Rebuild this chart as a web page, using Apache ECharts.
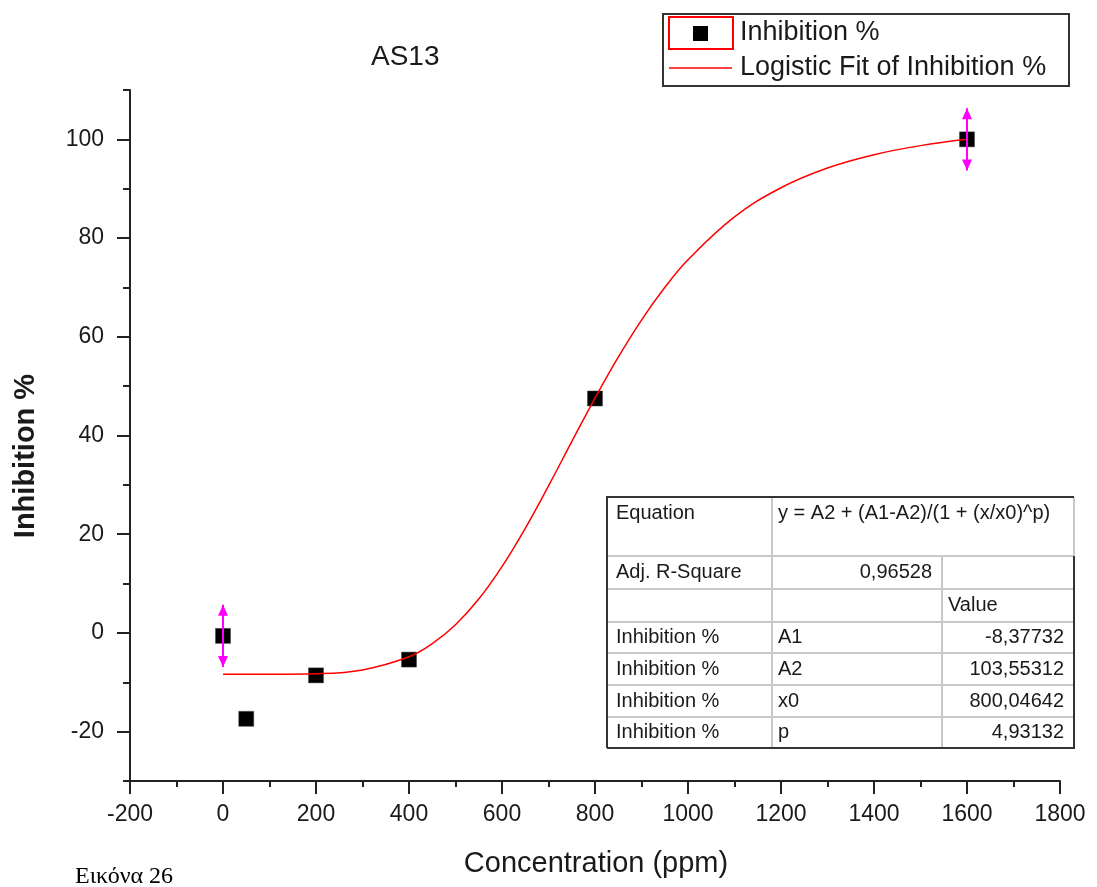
<!DOCTYPE html>
<html><head><meta charset="utf-8">
<script src="https://cdn.jsdelivr.net/npm/echarts@6/dist/echarts.min.js"></script>
<style>html,body{margin:0;padding:0;background:#fff;}#c{width:1097px;height:887px;}</style>
</head><body><div id="c"></div>
<script>
// ---- data ----
const concentration = [0, 50, 200, 400, 800, 1600];
const inhibition = [-0.6, -17.4, -8.6, -5.4, 47.5, 100];
const errConc = [0, 1600];
const errMean = [-0.6, 100];
const errSize = [6.3, 6.3];
const fitConc = [0, 100, 200, 300, 400, 450, 500, 550, 600, 650, 700, 750, 800, 850, 900, 950, 1000, 1100, 1200, 1300, 1400, 1500, 1600];
const fitInhibition = [-8.38, -8.37, -8.26, -7.49, -4.83, -2.18, 1.65, 6.86, 13.43, 21.19, 29.79, 38.75, 47.58, 55.88, 63.39, 69.97, 75.60, 84.28, 90.20, 94.19, 96.89, 98.73, 100.00];
const yMajorTicks = [-20, 0, 20, 40, 60, 80, 100];
const yMinorTicks = [-30, -10, 10, 30, 50, 70, 90, 110];
const legendNames = ['Inhibition %', 'Logistic Fit of Inhibition %'];
const tableLabels = ['Equation', 'Adj. R-Square', '', 'Inhibition %', 'Inhibition %', 'Inhibition %', 'Inhibition %'];
const tableParams = ['y = A2 + (A1-A2)/(1 + (x/x0)^p)', '0,96528', '', 'A1', 'A2', 'x0', 'p'];
const tableValues = ['', '', 'Value', '-8,37732', '103,55312', '800,04642', '4,93132'];
const titleText = 'AS13';
const xName = 'Concentration (ppm)';
const yName = 'Inhibition %';
const captionText = 'Εικόνα 26';

// ---- layout ----
const FONT = "'Liberation Sans', Arial, sans-serif";
const ink = '#1a1a1a';
const chart = echarts.init(document.getElementById('c'), null, {renderer: 'canvas'});

const graphics = [];
graphics.push({type: 'text', x: 596, y: 864, style: {text: xName, font: '29px ' + FONT, fill: ink, align: 'center', verticalAlign: 'middle'}});
graphics.push({type: 'text', x: 26, y: 456, rotation: Math.PI / 2, style: {text: yName, font: 'bold 29px ' + FONT, fill: ink, align: 'center', verticalAlign: 'middle'}});
graphics.push({type: 'text', x: 75, y: 877, style: {text: captionText, font: "24px 'Liberation Serif', 'Times New Roman', serif", fill: '#000', align: 'left', verticalAlign: 'middle'}});

// legend box
graphics.push({type: 'rect', shape: {x: 663, y: 14, width: 406, height: 72}, style: {fill: '#fff', stroke: '#333', lineWidth: 2}, z: 10});
graphics.push({type: 'rect', shape: {x: 669, y: 17, width: 64, height: 32}, style: {fill: 'none', stroke: '#ff0000', lineWidth: 2}, z: 11});
graphics.push({type: 'rect', shape: {x: 693, y: 26, width: 15, height: 15}, style: {fill: '#000'}, z: 11});
graphics.push({type: 'line', shape: {x1: 669, y1: 68, x2: 732, y2: 68}, style: {stroke: '#ff0000', lineWidth: 1.5}, z: 11});
graphics.push({type: 'text', x: 740, y: 33, style: {text: legendNames[0], font: '27px ' + FONT, fill: ink, align: 'left', verticalAlign: 'middle'}, z: 11});
graphics.push({type: 'text', x: 740, y: 68, style: {text: legendNames[1], font: '27px ' + FONT, fill: ink, align: 'left', verticalAlign: 'middle'}, z: 11});

// table
const tL = 607, c1 = 772, c2 = 942, tR = 1074;
const rowLines = [497, 556, 589, 622, 653, 685, 717, 748];
const light = '#c8c8c8', dark = '#333';
graphics.push({type: 'rect', shape: {x: tL, y: 497, width: tR - tL, height: 748 - 497}, style: {fill: '#fff'}, z: 5});
for (let i = 1; i < rowLines.length - 1; i++) {
  graphics.push({type: 'line', shape: {x1: tL, y1: rowLines[i], x2: tR, y2: rowLines[i]}, style: {stroke: light, lineWidth: 2}, z: 6});
}
graphics.push({type: 'line', shape: {x1: c1, y1: 497, x2: c1, y2: 748}, style: {stroke: light, lineWidth: 2}, z: 6});
graphics.push({type: 'line', shape: {x1: c2, y1: 556, x2: c2, y2: 748}, style: {stroke: light, lineWidth: 2}, z: 6});
graphics.push({type: 'line', shape: {x1: tR, y1: 497, x2: tR, y2: 556}, style: {stroke: light, lineWidth: 2}, z: 6});
graphics.push({type: 'polyline', shape: {points: [[tL, 748], [tL, 497], [tR, 497]]}, style: {stroke: dark, lineWidth: 2, fill: 'none'}, z: 7});
graphics.push({type: 'polyline', shape: {points: [[tL, 748], [tR, 748], [tR, 556]]}, style: {stroke: dark, lineWidth: 2, fill: 'none'}, z: 7});
const tf = '20px ' + FONT;
for (let i = 0; i < tableLabels.length; i++) {
  const top = rowLines[i], bot = rowLines[i + 1];
  const cy = i === 0 ? top + 16 : (top + bot) / 2;
  if (tableLabels[i]) graphics.push({type: 'text', x: tL + 9, y: cy, style: {text: tableLabels[i], font: tf, fill: ink, align: 'left', verticalAlign: 'middle'}, z: 8});
  if (tableParams[i]) {
    const numeric = i === 1;
    graphics.push({type: 'text', x: numeric ? c2 - 10 : c1 + 6, y: cy, style: {text: tableParams[i], font: tf, fill: ink, align: numeric ? 'right' : 'left', verticalAlign: 'middle'}, z: 8});
  }
  if (tableValues[i]) {
    const isHeader = i === 2;
    graphics.push({type: 'text', x: isHeader ? c2 + 6 : tR - 10, y: cy, style: {text: tableValues[i], font: tf, fill: ink, align: isHeader ? 'left' : 'right', verticalAlign: 'middle'}, z: 8});
  }
}

const axisLineStyle = {color: '#222', width: 2};
const option = {
  animation: false,
  backgroundColor: '#fff',
  title: {text: titleText, left: 366, top: 38, textStyle: {fontFamily: FONT, fontSize: 28, fontWeight: 'normal', color: ink}},
  grid: {left: 130, right: 37, top: 90, bottom: 106, containLabel: false},
  xAxis: [{
    type: 'value', min: -200, max: 1800, interval: 200, position: 'bottom',
    axisLine: {show: true, onZero: false, lineStyle: axisLineStyle},
    axisTick: {show: true, inside: false, length: 13, lineStyle: axisLineStyle},
    minorTick: {show: true, splitNumber: 2, length: 6, lineStyle: axisLineStyle},
    splitLine: {show: false}, minorSplitLine: {show: false},
    axisLabel: {margin: 22, fontSize: 23, fontFamily: FONT, color: ink, formatter: v => String(v)}
  }],
  yAxis: [{
    type: 'value', min: -30, max: 110, interval: 10, position: 'left',
    axisLine: {show: true, onZero: false, lineStyle: axisLineStyle},
    axisTick: {show: true, inside: false, length: 13, customValues: yMajorTicks, lineStyle: axisLineStyle},
    splitLine: {show: false},
    axisLabel: {margin: 26, fontSize: 23, fontFamily: FONT, color: ink, customValues: yMajorTicks, formatter: v => String(v)}
  }, {
    type: 'value', min: -30, max: 110, interval: 10, position: 'left', offset: 0,
    axisLine: {show: false, onZero: false},
    axisTick: {show: true, inside: false, length: 7, customValues: yMinorTicks, lineStyle: axisLineStyle},
    splitLine: {show: false},
    axisLabel: {show: false}
  }],
  graphic: graphics,
  series: [{
    name: legendNames[0], type: 'scatter', z: 2,
    symbol: 'rect', symbolSize: 15,
    itemStyle: {color: '#000', opacity: 1, borderColor: '#444', borderWidth: 0.5},
    data: concentration.map((x, i) => [x, inhibition[i]])
  }, {
    name: legendNames[1], type: 'line', z: 3, smooth: 0.4, showSymbol: false,
    lineStyle: {color: '#ff0000', width: 1.5},
    data: fitConc.map((x, i) => [x, fitInhibition[i]])
  }, {
    type: 'custom', z: 4,
    data: errConc.map((x, i) => [x, errMean[i], errSize[i]]),
    renderItem: function (params, api) {
      const x = api.value(0), y = api.value(1), e = api.value(2);
      const t = api.coord([x, y + e]), b = api.coord([x, y - e]);
      const col = '#ff00ff';
      return {type: 'group', children: [
        {type: 'line', shape: {x1: t[0], y1: t[1], x2: b[0], y2: b[1]}, style: {stroke: col, lineWidth: 2}},
        {type: 'polygon', shape: {points: [[t[0], t[1]], [t[0] - 5, t[1] + 11], [t[0] + 5, t[1] + 11]]}, style: {fill: col}},
        {type: 'polygon', shape: {points: [[b[0], b[1]], [b[0] - 5, b[1] - 11], [b[0] + 5, b[1] - 11]]}, style: {fill: col}}
      ]};
    }
  }]
};
chart.setOption(option);
</script>
</body></html>
